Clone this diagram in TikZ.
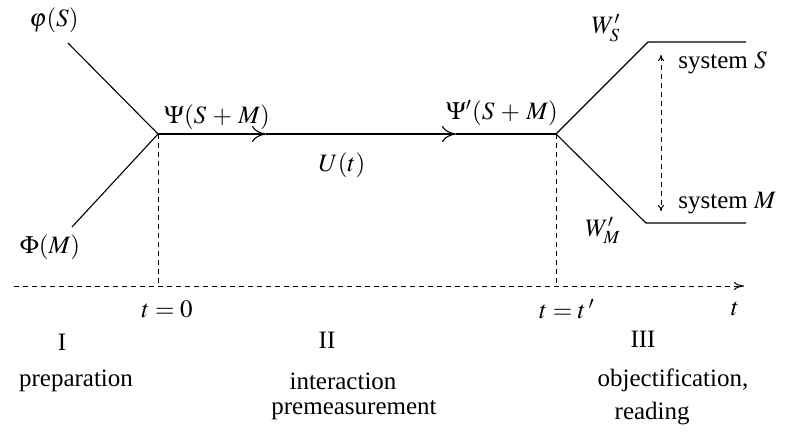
\documentclass[tikz,border=0pt]{standalone}
\usepackage{mathptmx}
\usepackage{fontspec}
\setmainfont{Liberation Serif}
\usetikzlibrary{positioning,arrows.meta}
\tikzset{
    state line/.style={% the branches of the state
        line width=0.55pt},
    time line/.style={% dashed guide lines
        dash pattern=on 2.6pt off 1.9pt, line width=0.5pt},
    label text/.style={% all texts
        inner sep=0pt, font=\fontsize{12.5}{14}\selectfont},
    flow tip/.style={-{To[length=7pt,width=8pt]}},
    axis tip/.style={-{To[length=5pt,width=4pt]}},
    both tip/.style={{To[length=3pt,width=3pt]}-{To[length=3pt,width=3pt]}}}

\begin{document}
\begin{tikzpicture}[x=0.5pt,y=-0.5pt]
\useasboundingbox (0,0) rectangle (791,438);
% branch points
\coordinate (phi end) at (68,43);
\coordinate (Phi end) at (72,227);
\coordinate (join) at (158,134);
\coordinate (arrow one) at (266,134);
\coordinate (arrow two) at (456,134);
\coordinate (split) at (556,134);
\coordinate (S bend) at (648,42);
\coordinate (S end) at (746,42);
\coordinate (M bend) at (646,223);
\coordinate (M end) at (746,223);
\coordinate (S tip) at (661,55);
\coordinate (M tip) at (661,211);
% time axis
\coordinate (axis start) at (14,286);
\coordinate (axis end) at (744,286);
\coordinate (zero) at (158,286);
\coordinate (tprime) at (556,286);
\draw[state line] (phi end) -- (join);
\draw[state line] (Phi end) -- (join);
\draw[state line, flow tip] (join) -- (arrow one);
\draw[state line, flow tip] (arrow one) -- (arrow two);
\draw[state line] (arrow two) -- (split);
\draw[state line] (split) -- (S bend) -- (S end);
\draw[state line] (split) -- (M bend) -- (M end);
\draw[time line, both tip] (S tip) -- (M tip);
\draw[time line] (join) -- (zero);
\draw[time line] (split) -- (tprime);
\draw[time line, axis tip] (axis start) -- (axis end);
% labels
\node[label text] (phi) at (54,20) {$\varphi(S)$};
\node[label text] (Phi) at (50,247) {$\Phi(M)$};
\node[label text] (psi) at (217,117) {$\Psi(S\,+\,M)$};
\node[label text] (evol) at (342,165) {$U(t)$};
\node[label text] (psi prime) at (502,113) {$\Psi'(S\,+\,M)$};
\node[label text] (WS) at (606,28) {$W'_S$};
\node[label text] (WM) at (603,230) {$W'_M$};
\node[label text, anchor=west] (sysS) at (678,63) {system $S$};
\node[label text, anchor=west] (sysM) at (678,203) {system $M$};
\node[label text] (t zero) at (167,309) {$t=0$};
\node[label text] (t prime) at (567,309) {$t=t\,'$};
\node[label text] (t) at (735,309) {$t$};
\node[label text] (one) at (62,342) {I};
\node[label text] (two) at (327,340) {II};
\node[label text] (three) at (643,339) {III};
\node[label text] (prep) at (76,381) {preparation};
\node[label text] (inter) at (343,381) {interaction};
\node[label text, below=5pt of inter, xshift=5.5pt] (premeas) {premeasurement};
\node[label text] (obj) at (673,380) {objectification,};
\node[label text, below=5pt of obj.south west, anchor=north west, xshift=8.5pt] (read) {reading};
\end{tikzpicture}
\end{document}
